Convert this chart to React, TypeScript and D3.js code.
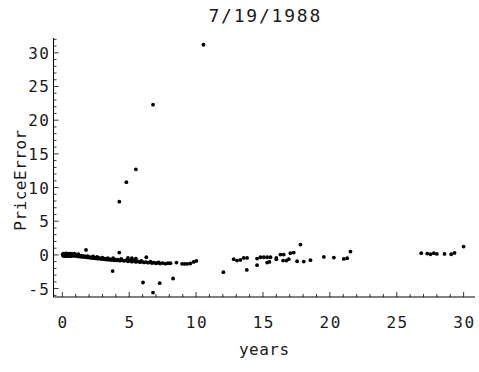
import React from "react";
import * as d3 from "d3";

const title = "7/19/1988";
const xLabel = "years";
const yLabel = "PriceError";
const xTicks = [0, 5, 10, 15, 20, 25, 30];
const yTicks = [-5, 0, 5, 10, 15, 20, 25, 30];

// dense band of short maturities
const bandYears = [0.02,0.05,0.08,0.1,0.12,0.15,0.18,0.2,0.23,0.25,0.28,0.3,0.33,0.36,0.4,0.43,0.46,0.5,0.53,0.56,0.6,0.64,0.68,0.72,0.76,0.8,0.85,0.9,0.95,1.0,1.05,1.1,1.16,1.22,1.28,1.34,1.4,1.46,1.52,1.6,1.68,1.76,1.85,1.95,2.05,2.15,2.25,2.35,2.45,2.55,2.65,2.75,2.85,2.95,3.05,3.15,3.25,3.35,3.45,3.55,3.65,3.75,3.85,3.95,4.05,4.15,4.3,4.45,4.6,4.75,4.9,5.05,5.2,5.35,5.5,5.65,5.8,5.95,6.1,6.25,6.4,6.55,6.7,6.85,7.0,7.15,7.3,7.5,7.7,7.9,4.9,5.2,5.5,0.3,0.6,0.9,1.2,2.6,3.4,1.9,2.3,3.0,3.8,4.4,5.9,6.6,7.2];
const bandErrors = [0.08,-0.14,0.18,-0.04,0.12,-0.16,0.16,0.0,-0.18,0.2,0.04,-0.1,0.16,-0.16,0.1,-0.06,0.18,-0.18,0.06,0.14,-0.12,0.1,-0.16,0.12,-0.04,0.08,-0.14,0.04,-0.12,0.02,-0.16,-0.04,-0.2,-0.08,-0.24,-0.12,-0.26,-0.14,-0.3,-0.2,-0.32,-0.22,-0.38,-0.28,-0.42,-0.32,-0.48,-0.38,-0.5,-0.42,-0.56,-0.46,-0.6,-0.52,-0.64,-0.54,-0.68,-0.58,-0.72,-0.62,-0.76,-0.66,-0.8,-0.7,-0.82,-0.72,-0.86,-0.76,-0.9,-0.8,-0.94,-0.86,-1.0,-0.9,-1.04,-0.96,-1.08,-1.0,-1.12,-1.06,-1.16,-1.1,-1.2,-1.14,-1.24,-1.18,-1.28,-1.22,-1.3,-1.24,-0.45,-0.5,-0.55,0.22,0.2,0.18,0.1,-0.3,-0.5,-0.18,-0.24,-0.4,-0.5,-0.6,-0.9,-1.0,-1.1];

// scattered bonds
const otherYears = [1.77,3.76,4.26,4.26,4.79,5.5,6.78,10.55,6.03,6.78,7.28,8.28,6.28,
  8.08,8.53,8.95,9.15,9.35,9.57,9.82,10.02,
  12.04,12.81,13.06,13.31,13.56,13.81,13.79,14.56,14.56,14.81,15.06,15.31,15.56,15.31,15.48,16.0,16.0,16.3,16.55,16.5,16.75,16.93,17.05,17.3,17.55,17.8,18.05,18.55,
  19.55,20.3,21.04,21.29,21.54,
  26.83,27.28,27.52,27.77,28.0,28.57,29.07,29.32,30.0];
const otherErrors = [0.74,-2.4,0.34,7.9,10.8,12.7,22.3,31.2,-4.1,-5.6,-4.2,-3.5,-0.35,
  -1.24,-1.14,-1.32,-1.34,-1.32,-1.28,-1.04,-0.9,
  -2.57,-0.64,-0.84,-0.74,-0.45,-0.45,-2.23,-0.55,-1.53,-0.35,-0.35,-0.35,-0.35,-1.14,-1.04,-0.45,-0.65,0.05,0.05,-0.84,-0.84,-0.64,0.25,0.35,-0.94,1.53,-0.99,-0.79,
  -0.3,-0.4,-0.6,-0.5,0.5,
  0.25,0.2,0.1,0.25,0.15,0.15,0.1,0.3,1.24];

const W = 479, H = 372;

export default function App() {
  const x = d3.scaleLinear().domain([-0.66, 30.85]).range([53.5, 475]);
  const y = d3.scaleLinear().domain([-6.25, 32.2]).range([297, 38]);
  const [x0, x1] = x.range();
  const [yb, yt] = y.range();
  const xMinor = d3.range(0, 31);
  const yMinor = d3.range(-6, 33);
  const pts = [
    ...bandYears.map((v, i) => [v, bandErrors[i]]),
    ...otherYears.map((v, i) => [v, otherErrors[i]]),
  ];
  const font = "'DejaVu Sans Mono', monospace";
  const ink = "#1a1a1a";
  return (
    <svg width={W} height={H} style={{ position: "absolute", left: 0, top: 0, background: "#fff" }}>
      <rect width={W} height={H} fill="#fff" />
      <text x={(x0 + x1) / 2 + 1} y={22} textAnchor="middle" fontFamily={font} fontSize={18} letterSpacing={1.8} fill={ink}>{title}</text>
      {/* axes */}
      <line x1={x0} x2={x1} y1={yb} y2={yb} stroke="#000" strokeWidth={1} />
      <line x1={x0} x2={x0} y1={yb} y2={yt} stroke="#000" strokeWidth={1} />
      {xMinor.map((t) => (
        <line key={"xm" + t} x1={x(t)} x2={x(t)} y1={yb} y2={yb - (t % 5 === 0 ? 5 : 3)} stroke="#000" strokeWidth={0.8} />
      ))}
      {yMinor.map((t) => (
        <line key={"ym" + t} x1={x0} x2={x0 + (t % 5 === 0 ? 5 : 3)} y1={y(t)} y2={y(t)} stroke="#000" strokeWidth={0.8} />
      ))}
      {xTicks.map((t) => (
        <text key={"xt" + t} x={x(t) + 0.8} y={328} textAnchor="middle" fontFamily={font} fontSize={16} letterSpacing={1.5} fill={ink}>{t}</text>
      ))}
      {yTicks.map((t) => (
        <text key={"yt" + t} x={50.5} y={y(t) + 6} textAnchor="end" fontFamily={font} fontSize={16} letterSpacing={1.5} fill={ink}>{t < 0 ? "-" + Math.abs(t) : t}</text>
      ))}
      <text x={(x0 + x1) / 2} y={355} textAnchor="middle" fontFamily={font} fontSize={16} letterSpacing={0.5} fill={ink}>{xLabel}</text>
      <text transform={`translate(26,180) rotate(-90)`} textAnchor="middle" fontFamily={font} fontSize={16} letterSpacing={0.5} fill={ink}>{yLabel}</text>
      {pts.map((p, i) => (
        <circle key={i} cx={x(p[0])} cy={y(p[1])} r={1.9} fill="#000" />
      ))}
    </svg>
  );
}
